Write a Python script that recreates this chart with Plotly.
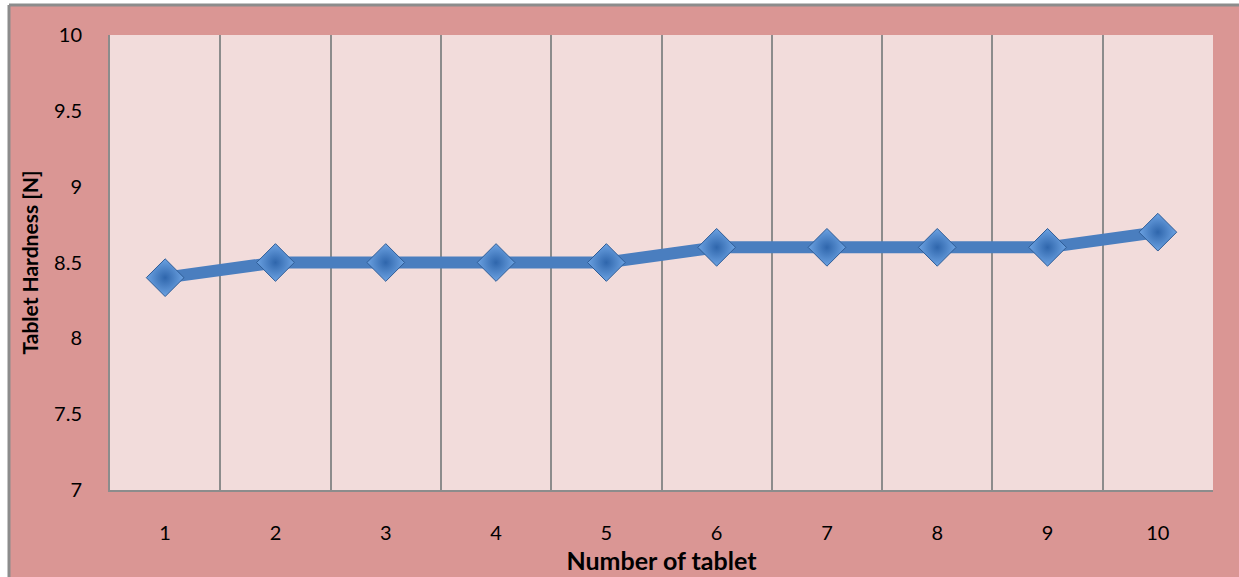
import plotly.graph_objects as go

tablets = [1, 2, 3, 4, 5, 6, 7, 8, 9, 10]
hardness = [8.4, 8.5, 8.5, 8.5, 8.5, 8.6, 8.6, 8.6, 8.6, 8.7]
y_ticks = [7, 7.5, 8, 8.5, 9, 9.5, 10]
y_tick_text = ["7", "7.5", "8", "8.5", "9", "9.5", "10"]
x_title = "Number of tablet"
y_title = "Tablet Hardness [N]"

W, H = 1239, 577
pw, ph = 1103, 455
ml, mt = 110, 35
mr, mb = W - ml - pw, H - mt - ph

fig = go.Figure()
fig.add_trace(go.Scatter(
    x=tablets, y=hardness, mode="lines+markers",
    line=dict(color="#4A7EBF", width=12),
    marker=dict(symbol="diamond", size=29, color="#6CA2E2",
                gradient=dict(type="radial", color="#2F66AC"),
                line=dict(color="#2E5C96", width=1)),
    showlegend=False,
))

font = "Lato, Open Sans, sans-serif"
left_px, top_px = 9, 5
x_left = (left_px - ml) / pw
y_top = 1 + (mt - top_px) / ph
x_far = (W + 80 - ml) / pw
y_far = 1 - (H + 80 - mt) / ph

fig.update_layout(
    width=W, height=H,
    margin=dict(l=ml, r=mr, t=mt, b=mb, autoexpand=False),
    paper_bgcolor="white",
    plot_bgcolor="rgba(0,0,0,0)",
    font=dict(family=font, color="black", size=20),
    xaxis=dict(
        range=[0.5, 10.5], tickvals=tablets, ticktext=[str(t) for t in tablets],
        showgrid=False, zeroline=False, automargin=False,
        showline=True, linecolor="#8C8C8C", linewidth=2,
        ticks="", ticklabelstandoff=24,
        minor=dict(tickvals=[i + 0.5 for i in range(0, 11)], showgrid=True,
                   gridcolor="#8C8C8C", gridwidth=2, ticks=""),
        title=dict(text="<b>" + x_title + "</b>", standoff=9,
                   font=dict(size=25, family=font)),
        fixedrange=True,
    ),
    yaxis=dict(
        range=[7, 10], tickvals=y_ticks, ticktext=y_tick_text,
        showgrid=False, zeroline=False, automargin=False,
        showline=True, linecolor="#8C8C8C", linewidth=2,
        ticks="", ticklabelstandoff=22,
        title=dict(text="<b>" + y_title + "</b>", standoff=10,
                   font=dict(size=21, family=font)),
        fixedrange=True,
    ),
    shapes=[
        dict(type="rect", xref="paper", yref="paper", layer="below",
             x0=x_left, x1=x_far, y0=y_far, y1=y_top,
             fillcolor="#DA9694", line=dict(width=0)),
        dict(type="line", xref="paper", yref="paper", layer="below",
             x0=x_left, x1=x_left, y0=y_far, y1=y_top,
             line=dict(color="#8C8C8C", width=3)),
        dict(type="line", xref="paper", yref="paper", layer="below",
             x0=x_left, x1=x_far, y0=y_top, y1=y_top,
             line=dict(color="#8C8C8C", width=3)),
        dict(type="rect", xref="paper", yref="paper", layer="below",
             x0=0, x1=1, y0=0, y1=1,
             fillcolor="#F2DCDB", line=dict(width=0)),
    ],
)

fig.write_html(
    "out.html",
    config={"displayModeBar": False, "staticPlot": True},
    post_script="document.body.style.margin='0';document.body.style.overflow='hidden';",
)
